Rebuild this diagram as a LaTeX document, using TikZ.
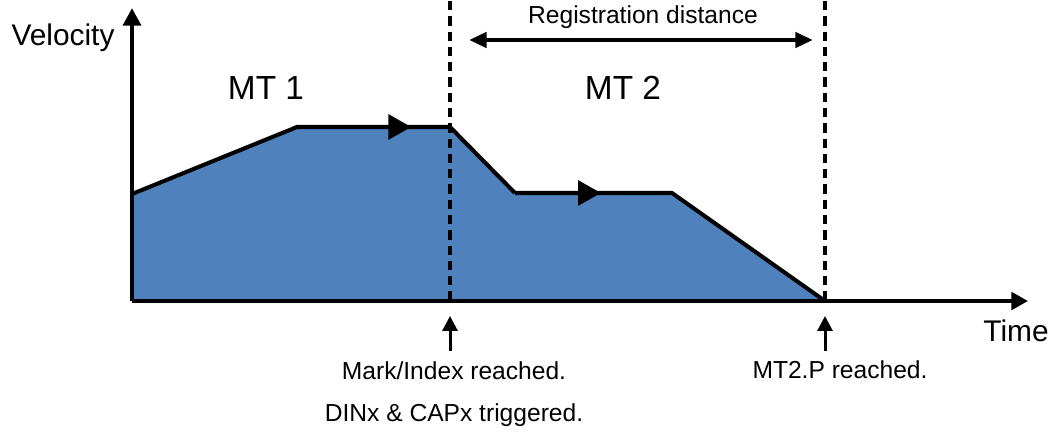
\documentclass[tikz,border=0pt]{standalone}
\usepackage{fontspec}
\setmainfont{Liberation Sans}
\usetikzlibrary{arrows.meta,decorations.markings}

\definecolor{profileblue}{HTML}{4F81BD}

\tikzset{
  axis/.style={line width=2.6pt, -{Triangle[length=10pt,width=10pt]}},
  profile/.style={line width=2.3pt, line join=miter},
  marker/.style={postaction={decorate, decoration={markings,
      mark=at position #1 with {\arrow{Triangle[length=13pt,width=14pt]}}}}},
  markline/.style={line width=2.2pt, dash pattern=on 5.3pt off 3.4pt},
  span/.style={line width=2.6pt, {Triangle[length=10pt,width=8.5pt]}-{Triangle[length=10pt,width=8.5pt]}},
  event/.style={line width=1.7pt, -{Triangle[length=8.5pt,width=8.5pt]}},
  biglabel/.style={font=\fontsize{19}{22}\selectfont},
  axlabel/.style={font=\fontsize{17}{20}\selectfont},
  smalllabel/.style={font=\fontsize{14}{16}\selectfont},
}

\begin{document}
\begin{tikzpicture}[x=0.02cm, y=-0.02cm]
    \useasboundingbox (0,0) rectangle (1054,432);

    % profile corners
    \coordinate (o)  at (132,301);
    \coordinate (p0) at (132,194);
    \coordinate (p1) at (297,127);
    \coordinate (p2) at (450,127);
    \coordinate (p3) at (515,193);
    \coordinate (p4) at (672,193);
    \coordinate (p5) at (825,301);

    % area under the profile
    \fill[profileblue] (o) -- (p0) -- (p1) -- (p2) -- (p3) -- (p4) -- (p5) -- cycle;

    % axes
    \coordinate (ytop) at (132,8);
    \coordinate (xend) at (1028,301);
    \draw[line width=2.1pt, -{Triangle[length=9.5pt,width=10pt]}] (o) -- (xend);
    \draw[axis] (o) -- (ytop);

    % profile line
    \draw[profile, marker=0.69] (p0) -- (p1) -- (p2) -- (p3);
    \draw[profile, marker=0.25] (p3) -- (p4) -- (p5);

    % mark lines
    \coordinate (d1top) at (450,1);
    \coordinate (d1bot) at (450,301);
    \coordinate (d2top) at (825,1);
    \coordinate (d2bot) at (825,301);
    \draw[markline] (d1top) -- (d1bot);
    \draw[markline] (d2top) -- (d2bot);

    % registration distance
    \coordinate (rl) at (469,40);
    \coordinate (rr) at (813,40);
    \draw[span] (rl) -- (rr);
    \node[smalllabel] (reg) at (643,17) {Registration distance};

    % labels
    \node[axlabel] (vel) at (63,38) {Velocity};
    \node[axlabel] (time) at (1016,331) {Time};
    \node[biglabel] (mt1) at (266,88) {MT 1};
    \node[biglabel] (mt2) at (623,88) {MT 2};

    % events
    \coordinate (e1) at (450,351);
    \coordinate (e1t) at (450,316);
    \coordinate (e2) at (825,351);
    \coordinate (e2t) at (825,316);
    \draw[event] (e1) -- (e1t);
    \draw[event] (e2) -- (e2t);
    \node[smalllabel] (mark) at (454,371) {Mark/Index reached.};
    \node[smalllabel] (din) at (454,415) {DINx \& CAPx triggered.};
    \node[smalllabel] (mtp) at (840,370) {MT2.P reached.};
\end{tikzpicture}
\end{document}
